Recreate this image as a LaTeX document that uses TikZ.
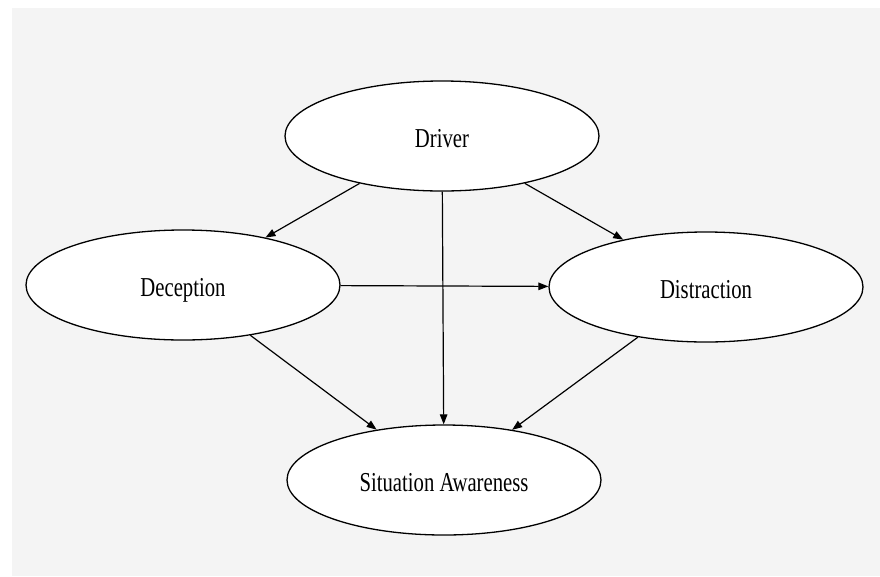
\documentclass[tikz,border=0pt]{standalone}
\usepackage{fontspec}
\setmainfont{Liberation Serif}
\usepackage{graphicx}
\usepackage{tikz}
\usetikzlibrary{shapes.geometric, arrows.meta, positioning}
\definecolor{bggray}{HTML}{F4F4F4}
\newcommand{\tallname}[1]{\scalebox{1}[1.32]{#1}}
\tikzset{factor/.style={ellipse,draw,fill=white,line width=1.3pt,minimum width=314pt,minimum height=110pt,inner sep=0pt,text height=23pt,text depth=0pt,font=\fontsize{20.7}{25}\selectfont},
         arrow/.style={-{Triangle[length=10pt,width=7.5pt]},line width=1.2pt}}

\begin{document}
\begin{tikzpicture}[x=1pt,y=1pt]
    % Canvas
    \useasboundingbox (0,0) rectangle (880,-576);
    \fill[bggray] (12,-8) rectangle (880,-576);
    % Factors
    \node (driver) at (442,-136) [factor]{\tallname{Driver}};
    \node (deception) at (183,-285) [factor]{\tallname{Deception}};
    \node (distraction) at (706,-287) [factor]{\tallname{Distraction}};
    \node (awareness) at (444,-480) [factor]{\tallname{Situation Awareness}};
    % Influences
    \draw[arrow] (driver) -- (deception);
    \draw[arrow] (driver) -- (distraction);
    \draw[arrow] (driver) -- (awareness);
    \draw[arrow] (deception) -- (distraction);
    \draw[arrow] (deception) -- (awareness);
    \draw[arrow] (distraction) -- (awareness);
  \end{tikzpicture}
\end{document}
